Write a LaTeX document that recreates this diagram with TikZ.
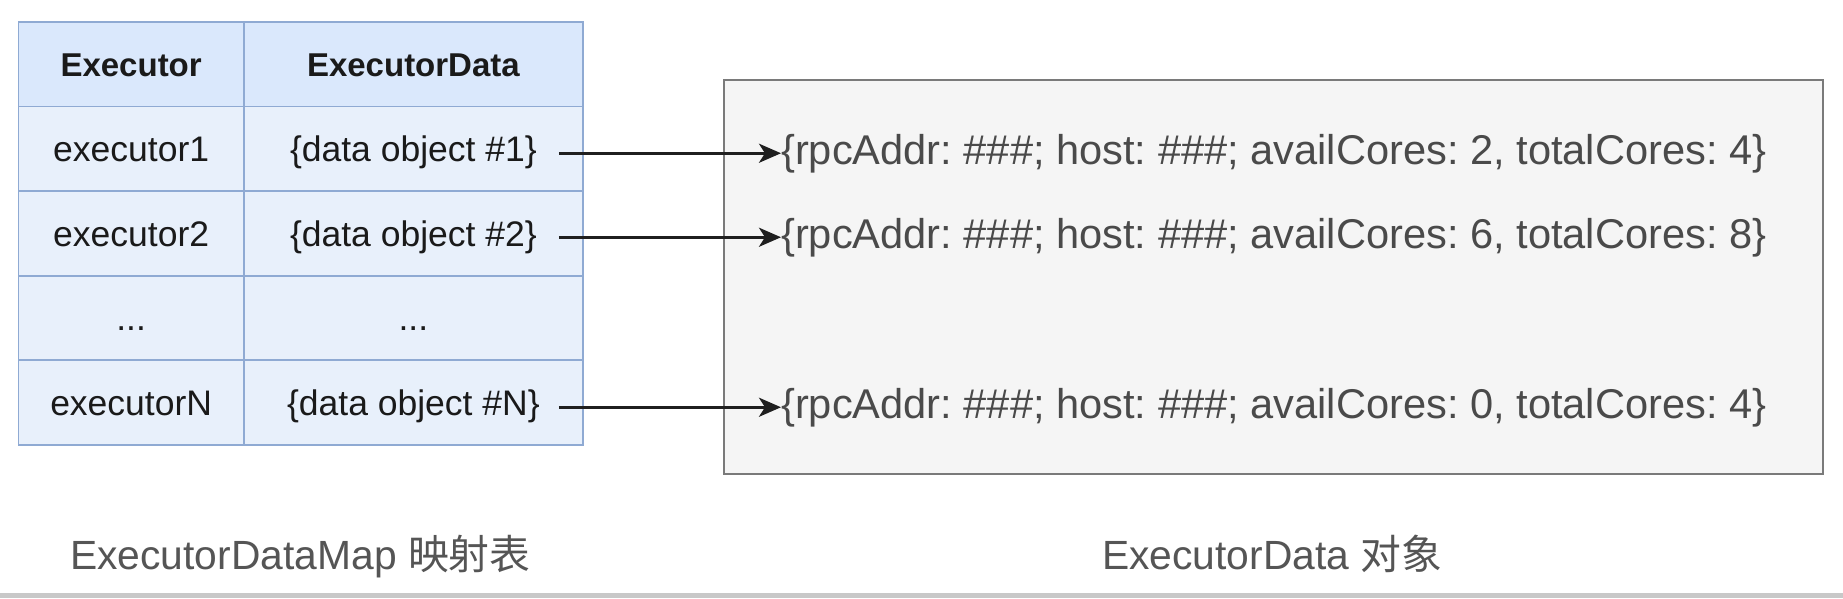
\documentclass[tikz,border=0pt]{standalone}
\usepackage{fontspec}
\setmainfont{Liberation Sans}
\newfontfamily\cjk{Noto Sans CJK SC}
\usetikzlibrary{arrows.meta,calc}
\definecolor{hdrfill}{HTML}{DAE8FC}
\definecolor{cellfill}{HTML}{E8F0FB}
\definecolor{tblline}{HTML}{8FAAD3}
\definecolor{boxfill}{HTML}{F5F5F5}
\definecolor{boxline}{HTML}{7A7A7A}
\definecolor{objtext}{HTML}{4A4A4A}
\definecolor{captext}{HTML}{555555}
\definecolor{cellText}{HTML}{1A1A1A}
\definecolor{barcol}{HTML}{C8C8C8}
\frenchspacing
\tikzset{
  cellbase/.style={draw=tblline, line width=1.8pt, rectangle, inner sep=0pt,
    minimum height=84.6pt, text=cellText, text height=30pt, text depth=4.6pt, anchor=north west},
  hdrcell/.style={cellbase, fill=hdrfill, font=\fontsize{33}{40}\selectfont\bfseries},
  bodycell/.style={cellbase, fill=cellfill, font=\fontsize{35.5}{42}\selectfont},
  colA/.style={minimum width=225.5pt},
  colB/.style={minimum width=339pt},
  objbox/.style={draw=boxline, fill=boxfill, line width=2.4pt, rectangle, inner sep=0pt,
    minimum width=1099pt, minimum height=394pt, anchor=north west},
  objtxt/.style={text=objtext, inner sep=0pt, anchor=base west, font=\fontsize{41.6}{50}\selectfont},
  captxt/.style={text=captext, inner sep=0pt, anchor=base west, font=\fontsize{40.8}{48}\selectfont},
  arr/.style={draw=black!88, line width=3pt, -{Stealth[length=22pt,width=19pt,inset=6pt]}}
}
\begin{document}
\begin{tikzpicture}[x=1pt,y=-1pt]
\useasboundingbox (0,0) rectangle (1843,598);
\fill[white] (0,0) rectangle (1843,598);
\fill[barcol] (0,593) rectangle (1843,598);

% table
\node[hdrcell,colA] (h1) at (17.5,21) {Executor};
\node[hdrcell,colB] (h2) at (243,21) {ExecutorData};
\node[bodycell,colA] (e1) at (17.5,105.6) {executor1};
\node[bodycell,colB] (d1) at (243,105.6) {\{data object \#1\}};
\node[bodycell,colA] (e2) at (17.5,190.2) {executor2};
\node[bodycell,colB] (d2) at (243,190.2) {\{data object \#2\}};
\node[bodycell,colA] (e3) at (17.5,274.8) {...};
\node[bodycell,colB] (d3) at (243,274.8) {...};
\node[bodycell,colA] (eN) at (17.5,359.4) {executorN};
\node[bodycell,colB] (dN) at (243,359.4) {\{data object \#N\}};

% object box
\node[objbox] (box) at (723,79) {};
\node[objtxt] (o1) at (781,164) {\{rpcAddr: \#\#\#; host: \#\#\#; availCores: 2, totalCores: 4\}};
\node[objtxt] (o2) at (781,248) {\{rpcAddr: \#\#\#; host: \#\#\#; availCores: 6, totalCores: 8\}};
\node[objtxt] (oN) at (781,418) {\{rpcAddr: \#\#\#; host: \#\#\#; availCores: 0, totalCores: 4\}};

% arrows
\draw[arr] ($(d1.east |- o1.west)+(-25,0)$) -- (o1.west);
\draw[arr] ($(d2.east |- o2.west)+(-25,0)$) -- (o2.west);
\draw[arr] ($(dN.east |- oN.west)+(-25,0)$) -- (oN.west);

% captions
\node[captxt] (c1) at (70,569) {ExecutorDataMap {\cjk 映射表}};
\node[captxt] (c2) at (1102,569) {ExecutorData {\cjk 对象}};
\end{tikzpicture}
\end{document}
